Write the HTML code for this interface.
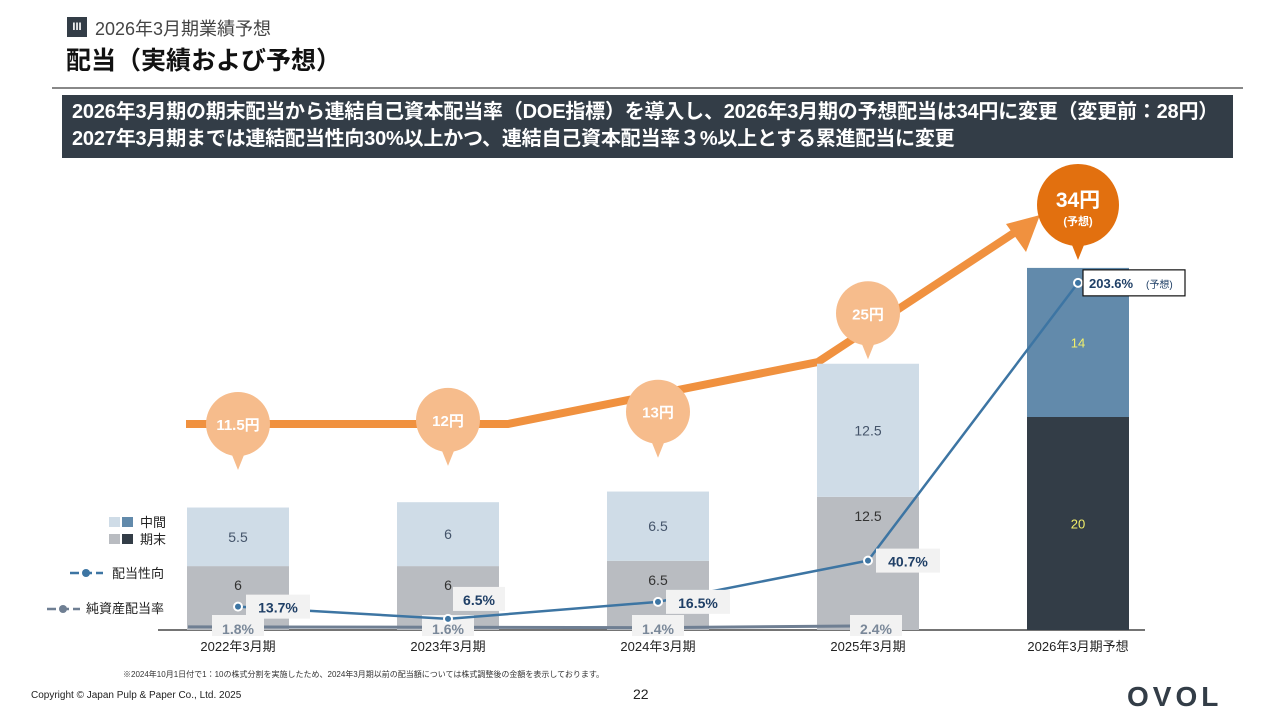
<!DOCTYPE html>
<html><head><meta charset="utf-8">
<style>
html,body{margin:0;padding:0;background:#fff;}
body{width:1280px;height:720px;overflow:hidden;position:relative;font-family:"Liberation Sans","Noto Sans CJK JP",sans-serif;}
.abs{position:absolute;}
</style></head>
<body>
<div class="abs" style="left:67px;top:17px;width:20px;height:20px;background:#333d47;color:#fff;font-size:11px;font-weight:bold;text-align:center;line-height:20px;">III</div>
<div class="abs" style="left:95px;top:15px;font-size:18px;color:#444;">2026年3月期業績予想</div>
<div class="abs" style="left:66px;top:41px;font-size:25px;font-weight:bold;color:#111;">配当（実績および予想）</div>
<div class="abs" style="left:52px;top:87px;width:1191px;height:2px;background:#888;"></div>
<div class="abs" style="left:62px;top:95px;width:1171px;height:63px;background:#333d47;color:#fff;font-size:20px;font-weight:bold;line-height:27px;padding:4px 0 0 10px;box-sizing:border-box;white-space:nowrap;letter-spacing:-0.2px;">2026年3月期の期末配当から連結自己資本配当率（DOE指標）を導入し、2026年3月期の予想配当は34円に変更（変更前：28円）<br>2027年3月期までは連結配当性向30%以上かつ、連結自己資本配当率３%以上とする累進配当に変更</div>

<svg class="abs" style="left:0;top:0" width="1280" height="720" id="chart"></svg>

<div class="abs" style="left:123px;top:669px;font-size:8px;color:#333;">※2024年10月1日付で1：10の株式分割を実施したため、2024年3月期以前の配当額については株式調整後の金額を表示しております。</div>
<div class="abs" style="left:31px;top:690px;font-size:10px;color:#222;">Copyright © Japan Pulp &amp; Paper Co., Ltd. 2025</div>
<div class="abs" style="left:633px;top:686px;font-size:14px;color:#222;">22</div>
<div class="abs" style="left:1127px;top:681px;font-size:28px;font-weight:900;color:#333d47;letter-spacing:4px;">OVOL</div>

<script>
const categories=["2022年3月期","2023年3月期","2024年3月期","2025年3月期","2026年3月期予想"];
const finalDiv=[6,6,6.5,12.5,20];
const interimDiv=[5.5,6,6.5,12.5,14];
const totalDiv=["11.5円","12円","13円","25円","34円"];
const totalVal=[11.5,12,13,25,34];
const payout=[13.7,6.5,16.5,40.7,203.6];
const doe=[1.8,1.6,1.4,2.4];
const NS="http://www.w3.org/2000/svg";
const svg=document.getElementById('chart');
function el(t,a,p){const e=document.createElementNS(NS,t);for(const k in a)e.setAttribute(k,a[k]);(p||svg).appendChild(e);return e;}
const base=630, unit=10.65;
const xC=i=>238+i*210;
const yB=v=>base-v*unit;
const yP=v=>base-v*1.705;
const yBub=v=>424-(v-11.5)*8.2;
const bw=102;
const ax=el('line',{x1:158,x2:1145,y1:base,y2:base,stroke:'#222','stroke-width':1.2});

const arr=el('polyline',{points:`186,424 508,424 818,362 1020,229`,fill:'none',stroke:'#f0913f','stroke-width':8,'stroke-linejoin':'miter'});

const ah=el('polygon',{points:'1040,215 1006,224 1026,252',fill:'#f0913f'});

categories.forEach((c,i)=>{
  const last=i===4;
  const x=xC(i)-bw/2;
  const f=el('rect',{x:x,y:yB(finalDiv[i]),width:bw,height:finalDiv[i]*unit,fill:last?'#333d47':'#b9bcc1'});
  
  const m=el('rect',{x:x,y:yB(finalDiv[i]+interimDiv[i]),width:bw,height:interimDiv[i]*unit,fill:last?'#628aab':'#cfdce7'});
  
  const col=last?'#f3f06a':'#44546a';
  const tf=el('text',{x:xC(i),y:i==4?yB(finalDiv[i]/2)+5:yB(finalDiv[i])+24,'text-anchor':'middle','font-size':last?13:14,fill:last?col:'#333'});
  tf.textContent=finalDiv[i];
  const ti=el('text',{x:xC(i),y:yB(finalDiv[i]+interimDiv[i]/2)+5,'text-anchor':'middle','font-size':last?13:14,fill:col});
  ti.textContent=interimDiv[i];
  const tc=el('text',{x:xC(i),y:651,'text-anchor':'middle','font-size':13,fill:'#222'});
  tc.textContent=c;
});
const dp=doe.map((v,i)=>`${i==0?188:xC(i)},${yP(v)}`).join(' ');
const dl=el('polyline',{points:dp,fill:'none',stroke:'#6f7f93','stroke-width':3});

doe.forEach((v,i)=>{
  const g=el('g',{});
  el('rect',{x:xC(i)-26+(i==3?8:0),y:615,width:52,height:21,fill:'#f2f2f2'},g);
  const t=el('text',{x:xC(i)+(i==3?8:0),y:634,'text-anchor':'middle','font-size':14,'font-weight':'bold',fill:'#7a8899'},g);t.textContent=v+'%';
});
const pp=payout.map((v,i)=>`${xC(i)},${yP(v)}`).join(' ');
const pl=el('polyline',{points:pp,fill:'none',stroke:'#3d75a3','stroke-width':2.5});

payout.forEach((v,i)=>{
  const x=xC(i),y=yP(v);
  const pt=el('circle',{cx:x,cy:y,r:4,fill:'#3d75a3',stroke:'#fff','stroke-width':2});
  
  const g=el('g',{});
  if(i==4){
    el('rect',{x:x+5,y:y-13,width:102,height:26,fill:'#fff',stroke:'#111','stroke-width':1.2},g);
    const t=el('text',{x:x+11,y:y+5,'font-size':13,'font-weight':'bold',fill:'#1f3f66'},g);t.textContent=v+'%';
    const t2=el('text',{x:x+68,y:y+5,'font-size':10,fill:'#1f3f66'},g);t2.textContent='(予想)';
  } else {
    let lx=x+8,ly=y-12;
    if(i==1){lx=x+5;ly=y-32;}
    el('rect',{x:lx,y:ly,width:i==1?52:64,height:24,fill:'#f2f2f2'},g);
    const t=el('text',{x:lx+(i==1?26:32),y:ly+18,'text-anchor':'middle','font-size':14,'font-weight':'bold',fill:'#1f3f66'},g);t.textContent=v+'%';
  }
});
totalVal.forEach((v,i)=>{
  const last=i===4;
  const cx=xC(i), cy=last?205:yBub(v), r=last?41:32;
  const fill=last?'#e2700f':'#f6bc8c';
  const g=el('g',{});
  el('circle',{cx:cx,cy:cy,r:r,fill:fill},g);
  el('polygon',{points:`${cx-8},${cy+r-6} ${cx+8},${cy+r-6} ${cx},${cy+r+14}`,fill:fill},g);
  if(last){
    const t=el('text',{x:cx,y:cy+2,'text-anchor':'middle','font-size':21,'font-weight':'bold',fill:'#fff'},g);t.textContent=totalDiv[i];
    const t2=el('text',{x:cx,y:cy+20,'text-anchor':'middle','font-size':11,'font-weight':'bold',fill:'#fff'},g);t2.textContent='(予想)';
  } else {
    const t=el('text',{x:cx,y:cy+6,'text-anchor':'middle','font-size':15,'font-weight':'bold',fill:'#fff'},g);t.textContent=totalDiv[i];
  }
});
const lg=el('g',{});
el('rect',{x:109,y:517,width:11,height:10,fill:'#cfdce7'},lg);el('rect',{x:122,y:517,width:11,height:10,fill:'#628aab'},lg);
let t=el('text',{x:140,y:527,'font-size':13,fill:'#222'},lg);t.textContent='中間';
el('rect',{x:109,y:534,width:11,height:10,fill:'#b9bcc1'},lg);el('rect',{x:122,y:534,width:11,height:10,fill:'#333d47'},lg);
t=el('text',{x:140,y:544,'font-size':13,fill:'#222'},lg);t.textContent='期末';
el('line',{x1:70,x2:103,y1:573,y2:573,stroke:'#3d75a3','stroke-width':2.5,'stroke-dasharray':'9,4'},lg);
el('circle',{cx:86,cy:573,r:4,fill:'#3d75a3'},lg);
t=el('text',{x:112,y:578,'font-size':13,fill:'#222'},lg);t.textContent='配当性向';
el('line',{x1:47,x2:80,y1:609,y2:609,stroke:'#6f7f93','stroke-width':2.5,'stroke-dasharray':'9,4'},lg);
el('circle',{cx:63,cy:609,r:4,fill:'#6f7f93'},lg);
t=el('text',{x:86,y:613,'font-size':13,fill:'#222'},lg);t.textContent='純資産配当率';
</script>
</body></html>
